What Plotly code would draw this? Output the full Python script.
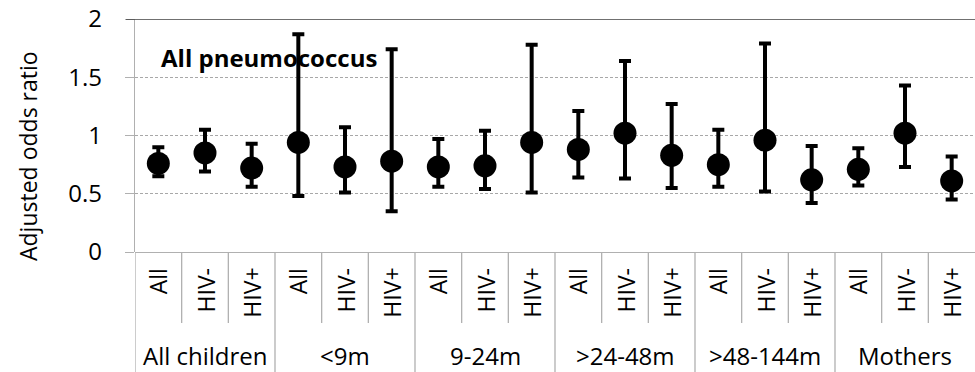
import plotly.graph_objects as go

# ---- data ----
groups = ["All children", "<9m", "9-24m", ">24-48m", ">48-144m", "Mothers"]
subgroups = ["All", "HIV-", "HIV+"]
estimate = [0.76, 0.85, 0.72, 0.94, 0.73, 0.78, 0.73, 0.74, 0.94,
            0.88, 1.02, 0.83, 0.75, 0.96, 0.62, 0.71, 1.02, 0.61]
lower = [0.65, 0.69, 0.56, 0.48, 0.51, 0.35, 0.56, 0.54, 0.51,
         0.64, 0.63, 0.55, 0.56, 0.52, 0.42, 0.57, 0.73, 0.45]
upper = [0.90, 1.05, 0.93, 1.87, 1.07, 1.74, 0.97, 1.04, 1.78,
         1.21, 1.64, 1.27, 1.05, 1.79, 0.91, 0.89, 1.43, 0.82]
y_ticks = [0, 0.5, 1, 1.5, 2]
y_tick_labels = ["0", "0.5", "1", "1.5", "2"]
panel_title = "All pneumococcus"
y_title = "Adjusted odds ratio"

FONT = "Open Sans"
FS = 24
n = len(estimate)
xs = list(range(n))

fig = go.Figure()
fig.add_trace(go.Scatter(
    x=xs, y=estimate, mode="markers",
    marker=dict(size=23, color="black"),
    error_y=dict(type="data", symmetric=False,
                 array=[u - e for u, e in zip(upper, estimate)],
                 arrayminus=[e - l for e, l in zip(estimate, lower)],
                 color="black", thickness=4, width=6),
    showlegend=False, cliponaxis=False,
))

H_TOP, H_BOT, M_L = 19, 120, 135
plot_h = 372 - H_TOP - H_BOT
plot_w = 975 - M_L


def py(pixel):
    return ((372 - H_BOT) - pixel) / plot_h


def px(pixel):
    return (pixel - M_L) / plot_w


shapes = []
annotations = []
sep_col = "#b0b0b0"
# separators and category labels
for gi in range(len(groups)):
    for si in range(len(subgroups)):
        i = gi * len(subgroups) + si
        if si == 0:
            shapes.append(dict(type="line", xref="x", yref="paper",
                               x0=i - 0.5, x1=i - 0.5, y0=0, y1=py(372),
                               line=dict(color=sep_col, width=1.3)))
        else:
            shapes.append(dict(type="line", xref="x", yref="paper",
                               x0=i - 0.5, x1=i - 0.5, y0=0, y1=py(323),
                               line=dict(color=sep_col, width=1.3)))
        annotations.append(dict(x=i, y=py(266), xref="x", yref="paper",
                                text=subgroups[si], textangle=-90,
                                showarrow=False, xanchor="center", yanchor="top",
                                font=dict(family=FONT, size=FS - 1, color="black")))
    annotations.append(dict(x=gi * len(subgroups) + 1, y=py(355), xref="x", yref="paper",
                            text=groups[gi], showarrow=False,
                            xanchor="center", yanchor="middle",
                            font=dict(family=FONT, size=FS, color="black")))

# top border line at y=2
shapes.append(dict(type="line", xref="paper", yref="y", x0=px(126), x1=1,
                   y0=2, y1=2, line=dict(color="#404040", width=1.5)))

annotations.append(dict(x=px(159), y=2 - (57 - H_TOP) / plot_h * 2, xref="paper", yref="y",
                        text="<b>" + panel_title + "</b>", showarrow=False,
                        xanchor="left", yanchor="middle",
                        font=dict(family=FONT, size=FS, color="black")))

# y axis title
annotations.append(dict(x=px(28), y=py(156), xref="paper", yref="paper",
                        text=y_title, textangle=-90, showarrow=False,
                        xanchor="center", yanchor="middle",
                        font=dict(family=FONT, size=FS - 1, color="black")))

fig.update_layout(
    width=975, height=372,
    margin=dict(l=M_L, r=0, t=H_TOP, b=H_BOT),
    paper_bgcolor="white", plot_bgcolor="white",
    shapes=shapes, annotations=annotations,
    font=dict(family=FONT, color="black"),
    xaxis=dict(range=[-0.5, n - 0.5], showticklabels=False, showgrid=False,
               zeroline=False, showline=False, ticks=""),
    yaxis=dict(range=[0, 2], tickvals=y_ticks, ticktext=y_tick_labels,
               showgrid=True, gridcolor="#a8a8a8", griddash="3px,2px", gridwidth=1,
               zeroline=True, zerolinecolor=sep_col, zerolinewidth=1.3,
               showline=True, linecolor=sep_col, linewidth=1.3,
               ticks="outside", ticklen=9, tickcolor=sep_col,
               ticklabelstandoff=18,
               tickfont=dict(family=FONT, size=FS, color="black")),
)

fig.write_html("out.html")
